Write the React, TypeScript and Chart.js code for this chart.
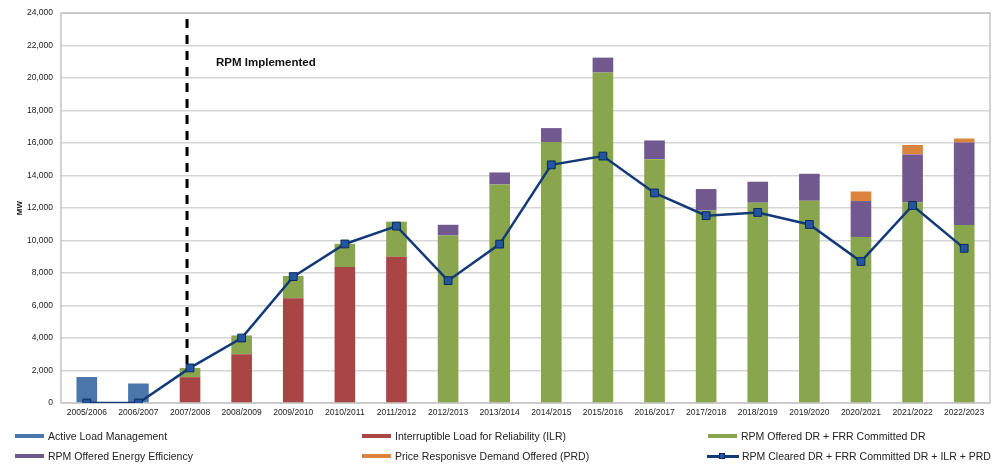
import React, { useEffect, useRef } from "react";
import { Chart, registerables } from "chart.js";

Chart.register(...registerables);

const categories = [
  "2005/2006", "2006/2007", "2007/2008", "2008/2009", "2009/2010", "2010/2011",
  "2011/2012", "2012/2013", "2013/2014", "2014/2015", "2015/2016", "2016/2017",
  "2017/2018", "2018/2019", "2019/2020", "2020/2021", "2021/2022", "2022/2023",
];

const activeLoadManagement = [1600, 1200, 0, 0, 0, 0, 0, 0, 0, 0, 0, 0, 0, 0, 0, 0, 0, 0];
const interruptibleLoad = [0, 0, 1590, 3000, 6450, 8370, 9000, 0, 0, 0, 0, 0, 0, 0, 0, 0, 0, 0];
const rpmOfferedDR = [0, 0, 570, 1160, 1370, 1430, 2160, 10310, 13450, 16060, 20340, 15010, 11850, 12330, 12450, 10220, 12350, 10950];
const rpmEnergyEfficiency = [0, 0, 0, 0, 0, 0, 0, 660, 740, 860, 920, 1150, 1320, 1290, 1660, 2210, 2950, 5080];
const priceResponsiveDemand = [0, 0, 0, 0, 0, 0, 0, 0, 0, 0, 0, 0, 0, 0, 0, 590, 580, 250];
const rpmClearedTotal = [0, 0, 2160, 4000, 7780, 9790, 10890, 7530, 9780, 14660, 15200, 12930, 11530, 11730, 10990, 8710, 12160, 9520];

const yTicks = { min: 0, max: 24000, step: 2000 };
const rpmStartIndex = 2;
const rpmLabel = "RPM Implemented";
const yTitle = "MW";

const COLORS = {
  alm: "#4a76ab",
  ilr: "#a94544",
  green: "#89a54e",
  purple: "#71588f",
  orange: "#db843d",
  line: "#123a78",
  marker: "#2356a0",
};

const legendItems = [
  { label: "Active Load Management", color: COLORS.alm, type: "box", x: 15, y: 436 },
  { label: "Interruptible Load for Reliability (ILR)", color: COLORS.ilr, type: "box", x: 362, y: 436 },
  { label: "RPM Offered DR + FRR Committed DR", color: COLORS.green, type: "box", x: 708, y: 436 },
  { label: "RPM Offered Energy Efficiency", color: COLORS.purple, type: "box", x: 15, y: 456 },
  { label: "Price Responisve Demand Offered (PRD)", color: COLORS.orange, type: "box", x: 362, y: 456 },
  { label: "RPM Cleared DR + FRR Committed DR + ILR + PRD", color: COLORS.line, type: "line", x: 707, y: 456 },
];

const FONT = "'Liberation Sans', Arial, sans-serif";

const annotationPlugin = {
  id: "rpmAnnotation",
  beforeDatasetsDraw(chart: any) {
    const { ctx, chartArea, scales } = chart;
    const x = scales.x;
    const y = scales.y;
    ctx.save();
    // plot border
    ctx.strokeStyle = "#c4c4c4";
    ctx.lineWidth = 1.5;
    ctx.strokeRect(chartArea.left, chartArea.top, chartArea.right - chartArea.left, chartArea.bottom - chartArea.top);
    // dashed line
    const px = x.getPixelForValue(rpmStartIndex) - 3;
    const yBottom = y.getPixelForValue(rpmClearedTotal[rpmStartIndex]);
    ctx.strokeStyle = "#000000";
    ctx.lineWidth = 3;
    ctx.setLineDash([9, 7]);
    ctx.beginPath();
    ctx.moveTo(px, chartArea.top + 6);
    ctx.lineTo(px, yBottom);
    ctx.stroke();
    ctx.setLineDash([]);
    // label
    ctx.fillStyle = "#111111";
    ctx.font = "bold 11.5px " + FONT;
    ctx.textAlign = "left";
    ctx.textBaseline = "middle";
    ctx.fillText(rpmLabel, x.getPixelForValue(rpmStartIndex) + 26, y.getPixelForValue(20950));
    ctx.restore();
  },
};

export default function App() {
  const canvasRef = useRef<HTMLCanvasElement | null>(null);

  useEffect(() => {
    if (!canvasRef.current) return;
    const barBase = {
      type: "bar" as const,
      stack: "bars",
      order: 1,
      barPercentage: 0.4,
      categoryPercentage: 1,
      borderWidth: 0,
    };
    const chart = new Chart(canvasRef.current, {
      type: "bar",
      data: {
        labels: categories,
        datasets: [
          {
            type: "line",
            label: "RPM Cleared DR + FRR Committed DR + ILR + PRD",
            data: rpmClearedTotal,
            stack: "line",
            order: 0,
            borderColor: COLORS.line,
            borderWidth: 2.5,
            pointStyle: "rect",
            pointRadius: 5.5,
            pointBackgroundColor: COLORS.marker,
            pointBorderColor: "#0b2a5a",
            pointBorderWidth: 1,
            tension: 0,
            fill: false,
          } as any,
          { ...barBase, label: "Active Load Management", data: activeLoadManagement, backgroundColor: COLORS.alm },
          { ...barBase, label: "Interruptible Load for Reliability (ILR)", data: interruptibleLoad, backgroundColor: COLORS.ilr },
          { ...barBase, label: "RPM Offered DR + FRR Committed DR", data: rpmOfferedDR, backgroundColor: COLORS.green },
          { ...barBase, label: "RPM Offered Energy Efficiency", data: rpmEnergyEfficiency, backgroundColor: COLORS.purple },
          { ...barBase, label: "Price Responisve Demand Offered (PRD)", data: priceResponsiveDemand, backgroundColor: COLORS.orange },
        ],
      },
      options: {
        animation: false,
        responsive: false,
        devicePixelRatio: 1,
        layout: { padding: { top: 13, right: 10, bottom: 49, left: 0 } },
        plugins: {
          legend: { display: false },
          tooltip: { enabled: false },
        },
        scales: {
          x: {
            stacked: true,
            grid: { display: false, drawTicks: false },
            border: { display: false },
            ticks: {
              color: "#222222",
              font: { family: FONT, size: 8.5 },
              padding: 5,
              maxRotation: 0,
              autoSkip: false,
            },
            afterFit(scale: any) {
              scale.height = 20;
            },
          },
          y: {
            stacked: true,
            min: yTicks.min,
            max: yTicks.max,
            grid: { color: "#d6d6d6", lineWidth: 1.5, drawTicks: false },
            border: { display: false },
            ticks: {
              stepSize: yTicks.step,
              color: "#222222",
              font: { family: FONT, size: 8.5 },
              padding: 8,
              callback: (v: any) => Number(v).toLocaleString("en-US"),
            },
            title: {
              display: true,
              text: yTitle,
              color: "#111111",
              font: { family: FONT, size: 8, weight: "bold" },
              padding: { top: 15, bottom: 0 },
            },
            afterFit(scale: any) {
              scale.width = 61;
            },
          },
        },
      } as any,
      plugins: [annotationPlugin],
    });
    return () => chart.destroy();
  }, []);

  return (
    <div style={{ position: "fixed", left: 0, top: 0, width: 1000, height: 472, background: "#ffffff" }}>
      <canvas ref={canvasRef} width={1000} height={472} style={{ width: 1000, height: 472, display: "block" }} />
      {legendItems.map((item) => (
        <div
          key={item.label}
          style={{
            position: "absolute",
            left: item.x,
            top: item.y - 8,
            height: 16,
            display: "flex",
            alignItems: "center",
            fontFamily: FONT,
            fontSize: 10.5,
            color: "#222222",
            whiteSpace: "nowrap",
          }}
        >
          {item.type === "box" ? (
            <span style={{ display: "inline-block", width: 29, height: 4, background: item.color, marginRight: 4 }} />
          ) : (
            <span style={{ position: "relative", display: "inline-block", width: 32, height: 16, marginRight: 3 }}>
              <span style={{ position: "absolute", left: 0, top: 6.5, width: 32, height: 3, background: item.color }} />
              <span
                style={{
                  position: "absolute",
                  left: 12,
                  top: 5,
                  width: 6,
                  height: 6,
                  background: COLORS.marker,
                  border: "1px solid #0b2a5a",
                  boxSizing: "border-box",
                }}
              />
            </span>
          )}
          <span>{item.label}</span>
        </div>
      ))}
    </div>
  );
}
